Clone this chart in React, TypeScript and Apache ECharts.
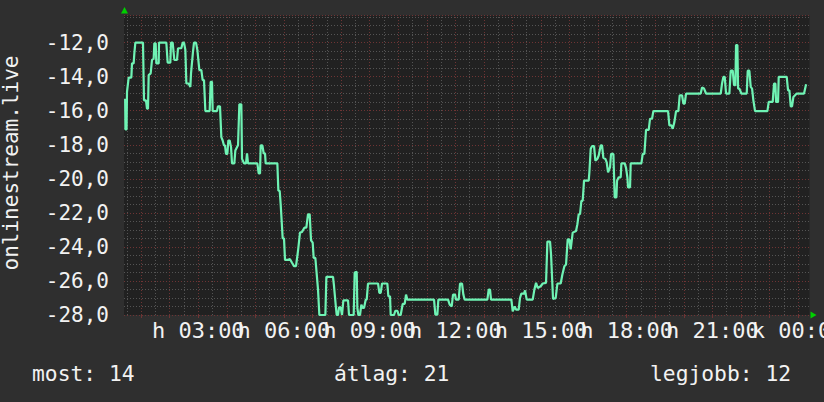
import React, { useEffect, useRef } from "react";
import * as echarts from "echarts";

// time in clock hours (00:24 .. 24:24), value = negative rank
const hours = [
  0.44, 0.45, 0.49, 0.505, 0.563, 0.657, 0.68, 0.738, 0.762, 0.797, 1.065, 1.1, 1.17, 1.205, 1.24, 1.264, 1.334, 1.38, 1.439, 1.462,
  1.509, 1.532, 1.614, 1.626, 1.882, 1.929, 2.022, 2.046, 2.104, 2.162, 2.256, 2.291, 2.407, 2.454, 2.501, 2.548, 2.583, 2.664, 2.723, 2.746,
  2.816, 2.851, 2.921, 2.968, 3.038, 3.108, 3.154, 3.201, 3.248, 3.4, 3.434, 3.481, 3.504, 3.656, 3.691, 3.761, 3.808, 3.855, 3.901, 3.936,
  3.971, 4.018, 4.053, 4.1, 4.147, 4.181, 4.263, 4.298, 4.368, 4.392, 4.438, 4.508, 4.532, 4.602, 4.672, 4.707, 4.742, 5.069, 5.115, 5.162,
  5.185, 5.244, 5.29, 5.337, 5.36, 5.769, 5.804, 5.851, 5.885, 5.909, 5.956, 6.002, 6.037, 6.142, 6.212, 6.282, 6.352, 6.422, 6.492, 6.562,
  6.632, 6.714, 6.784, 6.843, 6.901, 6.948, 7.006, 7.041, 7.099, 7.134, 7.193, 7.239, 7.45, 7.485, 7.718, 7.753, 7.811, 7.846, 7.893, 7.928,
  7.986, 8.033, 8.08, 8.243, 8.278, 8.442, 8.476, 8.547, 8.57, 8.605, 8.663, 8.71, 8.757, 8.803, 8.862, 8.897, 8.943, 9.294, 9.34, 9.387,
  9.434, 9.62, 9.655, 9.714, 9.737, 9.854, 9.9, 9.97, 10.017, 10.087, 10.157, 10.227, 10.274, 10.321, 11.254, 11.301, 11.371, 11.406, 11.745, 11.803,
  11.873, 11.92, 11.99, 12.025, 12.118, 12.165, 12.235, 12.281, 12.328, 13.122, 13.168, 13.215, 13.25, 13.962, 14.009, 14.079, 14.125, 14.219, 14.265, 14.312,
  14.406, 14.441, 14.499, 14.709, 14.767, 14.826, 14.884, 14.989, 15.059, 15.176, 15.223, 15.316, 15.351, 15.421, 15.514, 15.573, 15.689, 15.748, 15.818, 15.876,
  15.934, 15.993, 16.039, 16.109, 16.226, 16.273, 16.32, 16.366, 16.413, 16.46, 16.506, 16.67, 16.693, 16.74, 16.787, 16.857, 16.903, 16.973, 17.02, 17.09,
  17.137, 17.183, 17.253, 17.3, 17.347, 17.417, 17.452, 17.534, 17.58, 17.639, 17.662, 17.72, 17.79, 17.814, 17.93, 17.977, 18.024, 18.047, 18.117, 18.14,
  18.514, 18.561, 18.619, 18.677, 18.771, 18.817, 18.887, 18.934, 19.448, 19.494, 19.564, 19.611, 19.669, 19.728, 19.809, 19.856, 19.938, 19.984, 20.031, 20.078,
  20.591, 20.638, 20.708, 20.778, 21.292, 21.338, 21.385, 21.432, 21.478, 21.595, 21.642, 21.712, 21.758, 21.805, 21.828, 21.875, 21.899, 21.945, 22.015, 22.202,
  22.237, 22.295, 22.342, 22.389, 22.435, 22.494, 22.926, 22.972, 23.112, 23.159, 23.206, 23.229, 23.299, 23.322, 23.602, 23.649, 23.696, 23.743, 23.789, 23.836,
  23.953, 24.209, 24.28, 24.303,
];
const values = [
  -15.3, -17.1, -17.1, -14.89, -14.05, -14.05, -13.22, -13.22, -12.63, -12.0, -12.0, -15.39, -15.39, -15.88, -15.88, -13.91, -13.81, -13.02, -12.93, -12.04,
  -12.04, -13.22, -13.22, -12.0, -12.0, -13.18, -13.18, -12.0, -12.0, -13.02, -13.02, -12.33, -12.33, -12.0, -12.0, -12.43, -14.4, -14.4, -14.6, -13.81,
  -12.53, -12.0, -12.0, -12.43, -13.61, -13.61, -14.2, -14.2, -16.02, -16.02, -14.3, -14.3, -16.02, -16.02, -15.74, -15.74, -17.55, -17.75, -18.04, -18.04,
  -18.54, -18.54, -17.75, -17.75, -18.14, -19.09, -19.09, -18.34, -18.1, -18.04, -15.62, -15.62, -18.83, -19.09, -19.09, -18.5, -19.09, -19.09, -19.68, -19.68,
  -18.04, -18.04, -18.5, -18.5, -19.09, -19.09, -20.7, -20.7, -21.49, -21.49, -23.5, -23.5, -24.76, -24.76, -24.72, -24.93, -25.13, -25.13, -24.24, -23.16,
  -23.12, -22.87, -22.87, -22.08, -22.08, -23.61, -23.75, -24.64, -24.64, -25.33, -26.51, -28.0, -28.0, -25.76, -25.76, -26.31, -27.39, -28.0, -28.0, -27.55,
  -27.55, -28.0, -27.14, -27.14, -28.0, -28.0, -25.5, -25.46, -27.59, -28.0, -28.0, -27.39, -27.59, -27.59, -27.1, -27.1, -26.15, -26.15, -26.7, -26.7,
  -26.15, -26.15, -26.9, -26.9, -28.0, -28.0, -27.75, -27.75, -28.0, -28.0, -27.35, -27.35, -26.8, -27.1, -27.1, -27.98, -27.98, -27.1, -27.1, -27.39,
  -27.49, -26.8, -26.8, -27.1, -27.1, -26.15, -26.15, -26.8, -27.1, -27.1, -26.51, -26.51, -27.1, -27.1, -27.79, -27.49, -27.69, -27.69, -27.0, -26.74,
  -26.74, -26.55, -27.1, -27.1, -26.51, -26.11, -26.41, -26.31, -26.15, -26.11, -23.69, -23.69, -24.44, -27.06, -27.0, -26.15, -26.15, -25.62, -25.13, -25.03,
  -23.56, -23.56, -24.15, -23.16, -23.06, -22.67, -22.08, -22.08, -21.29, -21.29, -20.11, -20.11, -19.62, -18.24, -18.08, -18.08, -18.93, -18.83, -18.63, -18.04,
  -18.04, -18.77, -18.83, -19.03, -19.62, -19.32, -18.54, -18.54, -21.09, -21.09, -20.11, -19.91, -19.91, -19.09, -19.09, -19.36, -19.91, -20.5, -20.5, -19.09,
  -19.09, -18.54, -18.54, -17.12, -17.12, -16.47, -16.47, -16.02, -16.02, -16.86, -16.86, -17.06, -16.67, -16.02, -16.02, -15.09, -15.09, -15.58, -15.58, -14.99,
  -14.99, -14.64, -14.7, -14.99, -14.99, -14.4, -14.01, -14.01, -14.99, -14.99, -13.65, -13.65, -14.5, -14.5, -12.14, -12.14, -14.7, -14.7, -14.99, -14.99,
  -13.65, -13.65, -14.6, -14.7, -15.39, -16.02, -16.02, -15.48, -15.48, -14.4, -14.4, -15.48, -15.48, -14.01, -14.01, -14.8, -14.8, -15.74, -15.74, -15.19,
  -14.99, -14.99, -14.44, -14.44,
];

const startHour = 0.4;
const endHour = 24.4;
const yMin = -28;
const yMax = -10.4;
const xTickHours = [3, 6, 9, 12, 15, 18, 21, 24];
const xTickLabels = ["h 03:00", "h 06:00", "h 09:00", "h 12:00", "h 15:00", "h 18:00", "h 21:00", "k 00:00"];
const axisTitle = "onlinestream.live";
const legendTexts = ["most: 14", "átlag: 21", "legjobb: 12"];

const MONO = "'DejaVu Sans Mono', monospace";
const TEXT = "#f2f2f2";
const RED = "#6e3434";
const GRAY = "#545454";

export default function App() {
  const ref = useRef<HTMLDivElement>(null);
  useEffect(() => {
    const chart = echarts.init(ref.current!, null, { renderer: "svg" });
    const data = hours.map((h, i) => [h, values[i]]);
    const gridHours: number[] = [];
    for (let h = Math.ceil(startHour * 2) / 2; h < endHour; h += 0.5) gridHours.push(h);
    const hourTicks = gridHours.filter((h) => Number.isInteger(h));
    const markData = gridHours.map((h) => ({
      xAxis: h,
      lineStyle: { color: Number.isInteger(h) ? RED : GRAY, type: [1, 2], width: 1 },
    }));
    chart.setOption({
      animation: false,
      backgroundColor: "#2f2f2f",
      grid: {
        left: 124,
        right: 14.5,
        top: 15.4,
        bottom: 87,
        show: true,
        backgroundColor: "#212121",
        borderWidth: 0,
        containLabel: false,
        outerBoundsMode: "none",
      },
      xAxis: {
        type: "value",
        min: startHour,
        max: endHour,
        splitLine: { show: false },
        axisLine: { show: false },
        axisTick: {
          show: true,
          customValues: hourTicks,
          length: 3,
          lineStyle: { color: RED, width: 1 },
        },
        axisLabel: { show: false },
      },
      yAxis: {
        type: "value",
        min: yMin,
        max: yMax,
        interval: 0.5,
        axisLine: { show: false },
        axisTick: { show: false },
        splitLine: {
          show: true,
          lineStyle: { color: [RED, GRAY, GRAY, GRAY], type: [1, 2], width: 1 },
        },
        axisLabel: {
          color: TEXT,
          fontFamily: MONO,
          fontSize: 21,
          margin: 15,
          showMinLabel: true,
          formatter: (v: number) =>
            Math.abs(v % 2) < 1e-6 && v <= -12 ? v.toFixed(1).replace(".", ",") : "",
        },
      },
      series: [
        {
          type: "line",
          data: [],
          z: 1,
          silent: true,
          markLine: {
            z: 1,
            silent: true,
            symbol: ["none", "none"],
            label: { show: false },
            animation: false,
            data: markData,
          },
        },
        {
          type: "line",
          data,
          z: 5,
          showSymbol: false,
          symbol: "none",
          lineStyle: { color: "#6ff3b4", width: 2.2 },
        },
      ],
    });

    const axisY = chart.convertToPixel({ yAxisIndex: 0 }, yMin) as number;
    const xLabels = xTickHours.map((h, i) => ({
      type: "text",
      id: "xl" + i,
      x: chart.convertToPixel({ xAxisIndex: 0 }, h) as number,
      y: axisY + 15.5,
      z: 10,
      style: {
        text: xTickLabels[i],
        fill: TEXT,
        fontFamily: MONO,
        fontSize: 22,
        align: "center",
        verticalAlign: "middle",
        textAlign: "center",
        textVerticalAlign: "middle",
      },
    }));

    chart.setOption({
      graphic: [
        {
          type: "text",
          id: "title",
          x: 11,
          y: 163,
          rotation: Math.PI / 2,
          style: {
            text: axisTitle,
            fill: TEXT,
            fontFamily: MONO,
            fontSize: 21,
            align: "center",
            verticalAlign: "middle",
            textAlign: "center",
            textVerticalAlign: "middle",
          },
        },
        ...xLabels,
        ...legendTexts.map((t, i) => ({
          type: "text",
          id: "lg" + i,
          x: [32, 334, 650][i],
          y: 373,
          style: {
            text: t,
            fill: TEXT,
            fontFamily: MONO,
            fontSize: 21.3,
            align: "left",
            verticalAlign: "middle",
            textAlign: "left",
            textVerticalAlign: "middle",
          },
        })),
        {
          type: "polygon",
          id: "arrowUp",
          shape: { points: [[124.5, 7], [121, 13.5], [128, 13.5]] },
          style: { fill: "#00d000" },
        },
        {
          type: "polygon",
          id: "arrowRight",
          shape: { points: [[816.5, 315], [810.5, 311.5], [810.5, 318.5]] },
          style: { fill: "#00d000" },
        },
      ],
    });
    return () => chart.dispose();
  }, []);
  return (
    <div
      ref={ref}
      style={{ width: 824, height: 402, position: "absolute", left: 0, top: 0 }}
    />
  );
}
